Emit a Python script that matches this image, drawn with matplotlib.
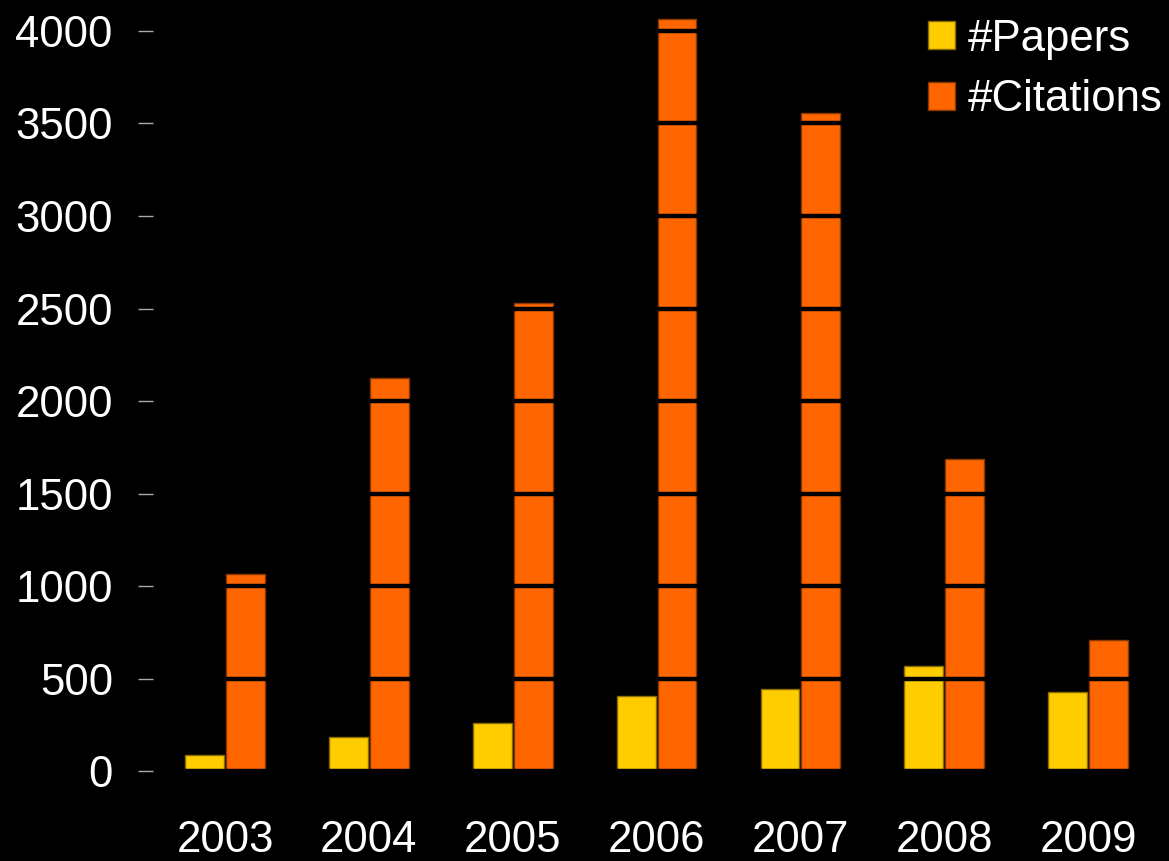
import numpy as np
import matplotlib
matplotlib.use("Agg")
import matplotlib.pyplot as plt

years = ['2003', '2004', '2005', '2006', '2007', '2008', '2009']
papers = [86, 184, 259, 405, 443, 568, 427]
citations = [1065, 2124, 2531, 4065, 3557, 1686, 708]

plt.rcParams['font.family'] = ['Liberation Sans', 'DejaVu Sans']

fig = plt.figure(figsize=(11.69, 8.61), dpi=100, facecolor='black')
ax = fig.add_axes([0.131, 0.1045, 0.8614, 0.881], facecolor='black')

x = np.arange(len(years))
w = 0.27
ax.bar(x - w / 2 - 0.007, papers, width=w, color='#FFCC00', edgecolor='#8a6d00',
       linewidth=1, label='#Papers', zorder=2)
ax.bar(x + w / 2 + 0.007, citations, width=w, color='#FF6600', edgecolor='#8a3700',
       linewidth=1, label='#Citations', zorder=2)

ax.set_xlim(-0.5, len(years) - 0.5)
ax.set_ylim(0, 4100)
ax.set_yticks(range(0, 4001, 500))
ax.set_xticks(x)
ax.set_xticklabels(years)

# black gridlines cut through the bars
ax.yaxis.grid(True, color='black', linewidth=3.2, zorder=3)
ax.set_axisbelow(False)

for s in ax.spines.values():
    s.set_visible(False)

ax.tick_params(axis='y', colors='#aaaaaa', labelcolor='white', labelsize=31.5,
               length=11, width=1, pad=18)
ax.tick_params(axis='x', length=0, labelcolor='white', labelsize=31.5, pad=35)

leg = ax.legend(loc='upper right', bbox_to_anchor=(1.02, 1.015), frameon=False,
                fontsize=31.5, handlelength=0.62, handleheight=0.62,
                handletextpad=0.3, labelspacing=0.45, borderaxespad=0)
for t in leg.get_texts():
    t.set_color('white')

fig.savefig('out.png', facecolor='black')
